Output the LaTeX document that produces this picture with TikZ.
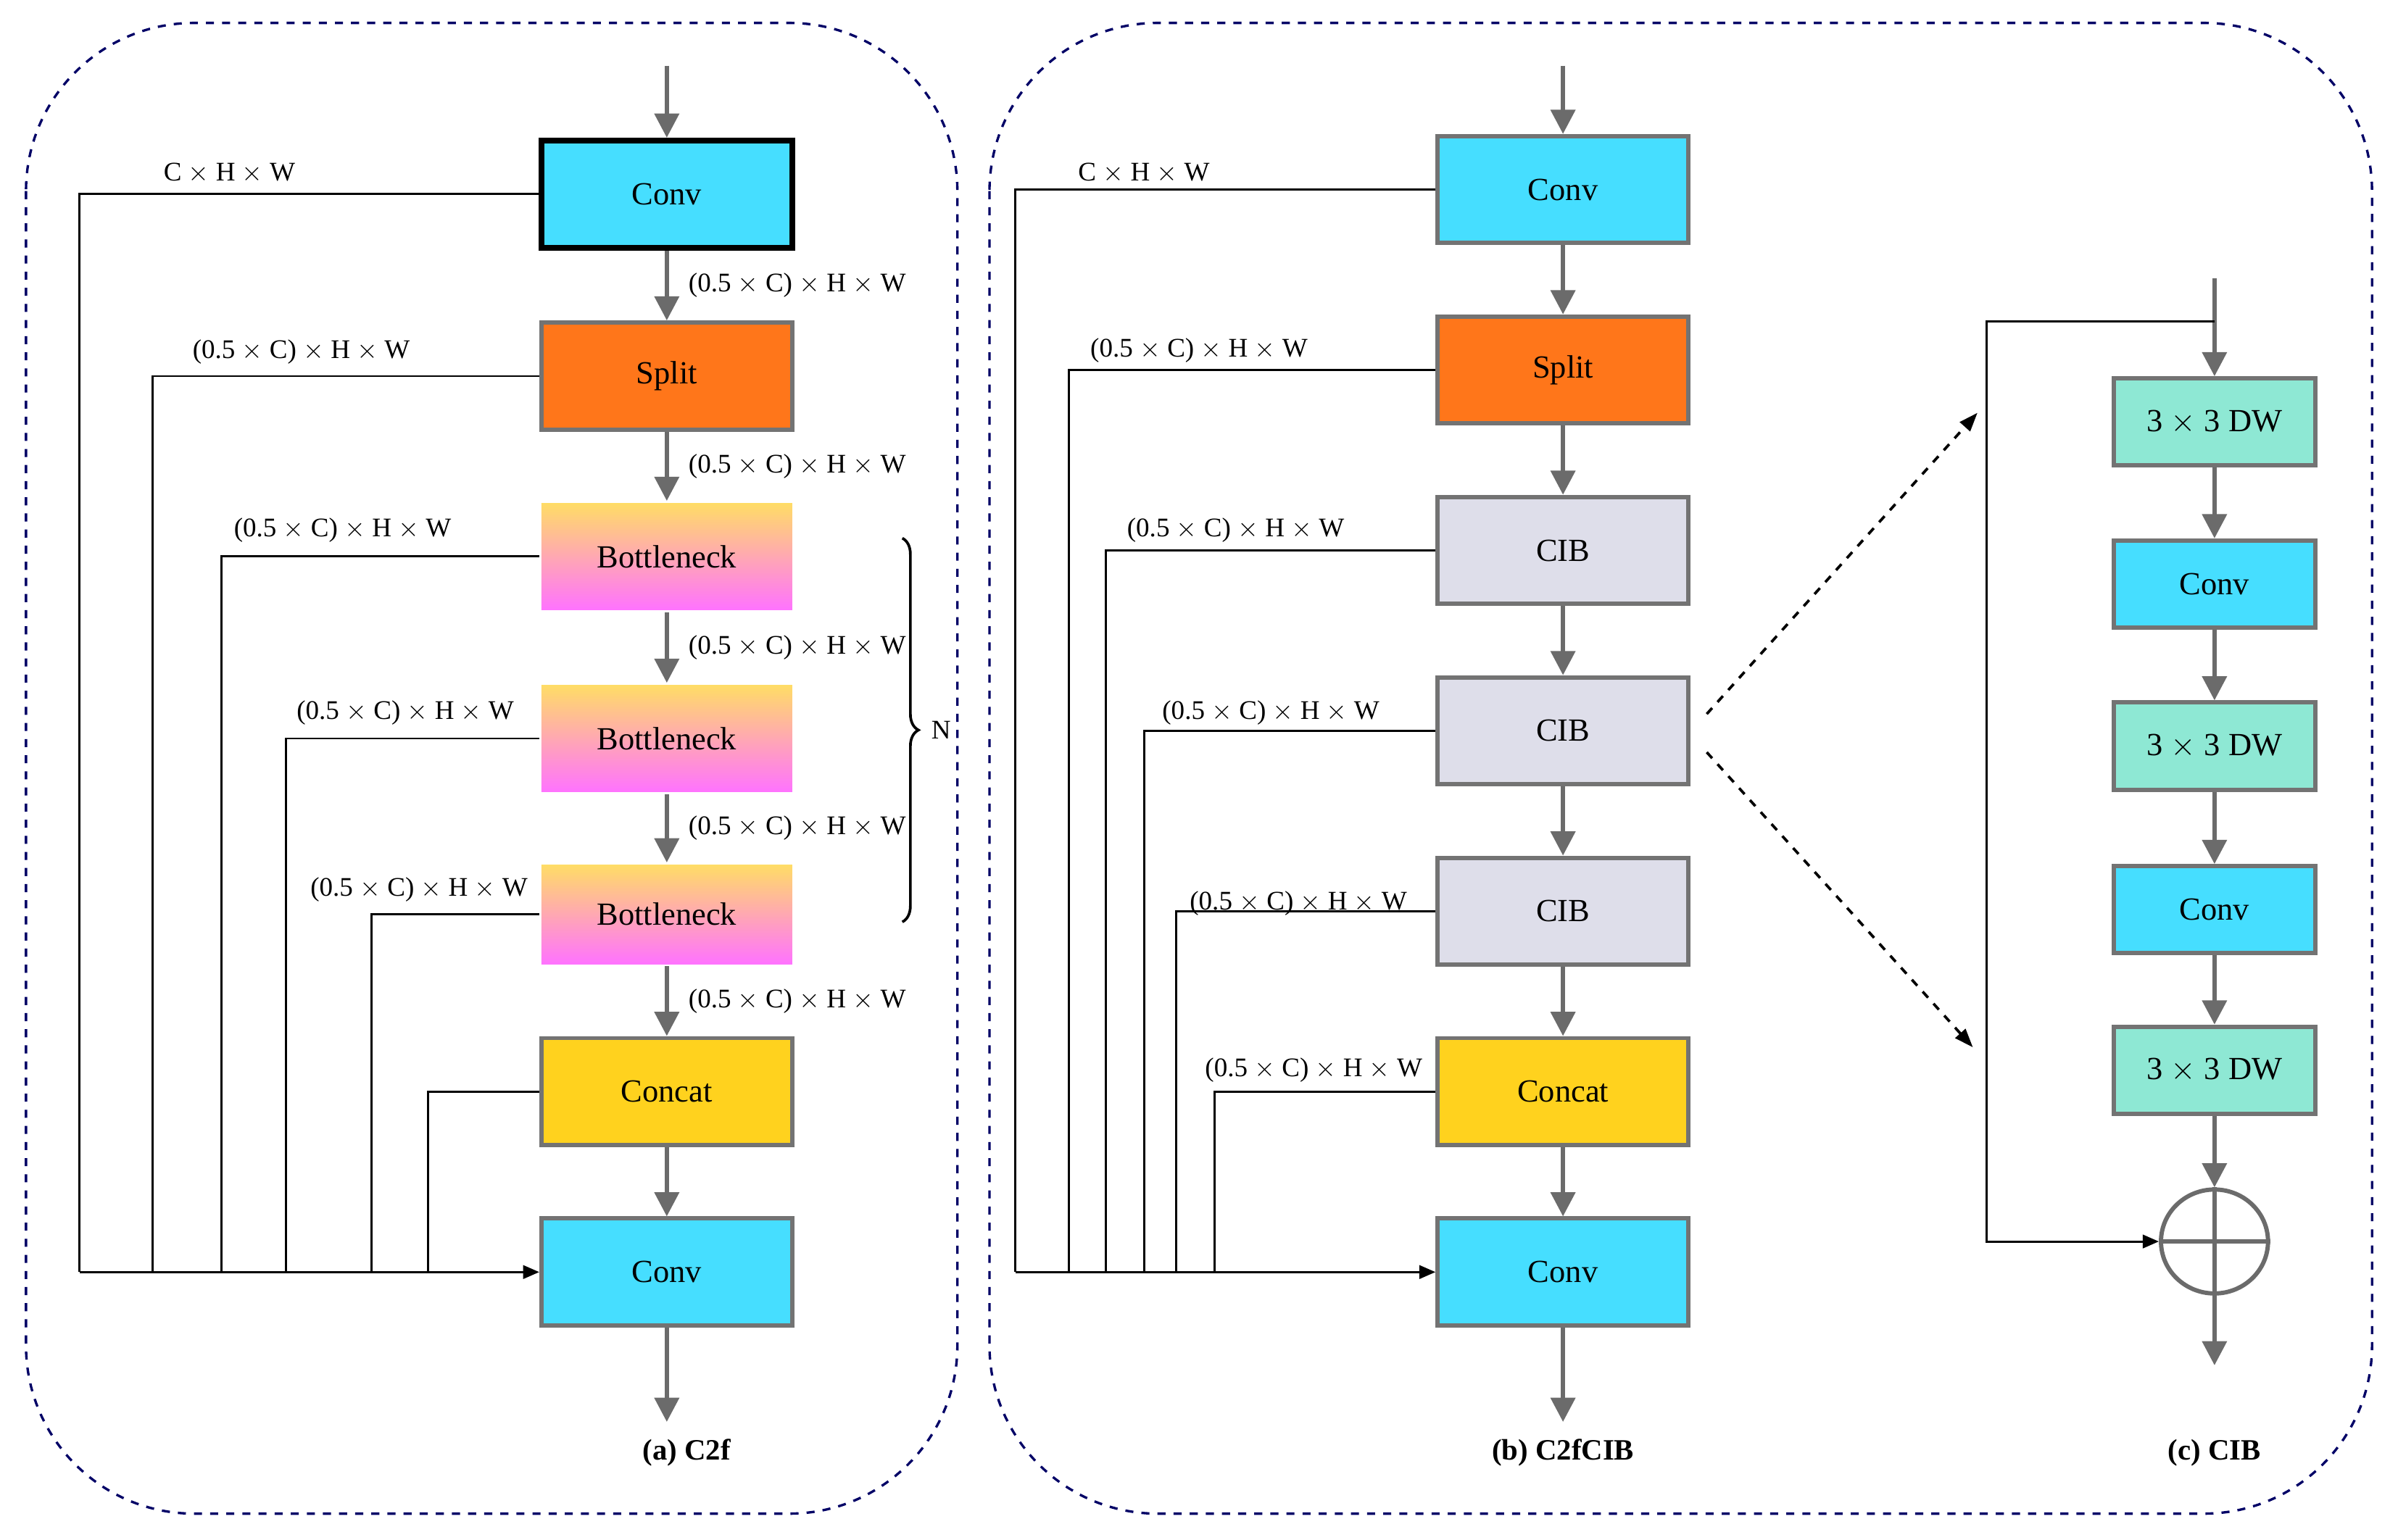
\documentclass[tikz,border=0pt]{standalone}
\usepackage{fontspec}
\setmainfont{Liberation Serif}
\usetikzlibrary{arrows.meta,shapes,positioning,decorations.pathreplacing,calc}

\begin{document}
\begin{tikzpicture}[x=0.02cm,y=-0.02cm,
  font=\fontsize{10}{12}\selectfont,
  blk/.style={rectangle, minimum width=3.28cm, minimum height=1.4cm, draw=black!55, line width=1.6pt, inner sep=0pt, font=\fontsize{12}{14}\selectfont},
  sblk/.style={blk, minimum width=2.64cm, minimum height=1.14cm},
  flow/.style={draw=black!58, line width=1.6pt, -{Triangle[length=9pt,width=9pt]}},
  skip/.style={draw=black, line width=0.8pt},
  panel/.style={draw=blue!40!black, dashed, line width=0.9pt, rounded corners=2.2cm}]
\definecolor{convc}{RGB}{70,222,255}
\definecolor{splitc}{RGB}{255,118,26}
\definecolor{cibc}{RGB}{222,222,234}
\definecolor{catc}{RGB}{255,210,30}
\definecolor{dwc}{RGB}{142,232,212}
\useasboundingbox (0,0) rectangle (1568,1007);

% panels
\draw[panel] (17,15) rectangle (626,990);
\draw[panel] (647,15) rectangle (1551,990);

% (a) C2f
\node[blk, fill=convc, draw=black, line width=2.2pt] (aconv1) at (436,127) {Conv};
\node[blk, fill=splitc] (asplit) at (436,246) {Split};
\node[blk, draw=none, top color=yellow!55!orange!60, bottom color=magenta!55] (abot1) at (436,364) {Bottleneck};
\node[blk, draw=none, top color=yellow!55!orange!60, bottom color=magenta!55] (abot2) at (436,483) {Bottleneck};
\node[blk, draw=none, top color=yellow!55!orange!60, bottom color=magenta!55, minimum height=1.3cm] (abot3) at (436,598) {Bottleneck};
\node[blk, fill=catc] (acat) at (436,714) {Concat};
\node[blk, fill=convc] (aconv2) at (436,832) {Conv};
\coordinate (ain) at (436,43);
\coordinate (aout) at (436,930);
\node[font=\fontsize{11}{13}\selectfont\bfseries] (acap) at (449,950) {(a) C2f};

\draw[flow] (ain) -- (aconv1);
\draw[flow] (aconv1) -- node[right, xshift=4pt] {(0.5 $\times$ C) $\times$ H $\times$ W} (asplit);
\draw[flow] (asplit) -- node[right, xshift=4pt] {(0.5 $\times$ C) $\times$ H $\times$ W} (abot1);
\draw[flow] (abot1) -- node[right, xshift=4pt] {(0.5 $\times$ C) $\times$ H $\times$ W} (abot2);
\draw[flow] (abot2) -- node[right, xshift=4pt] {(0.5 $\times$ C) $\times$ H $\times$ W} (abot3);
\draw[flow] (abot3) -- node[right, xshift=4pt] {(0.5 $\times$ C) $\times$ H $\times$ W} (acat);
\draw[flow] (acat) -- (aconv2);
\draw[flow] (aconv2) -- (aout);

\draw[skip] (aconv1.west) -| (52,832);
\draw[skip] (asplit.west) -| (100,832);
\draw[skip] (abot1.west) -| (145,832);
\draw[skip] (abot2.west) -| (187,832);
\draw[skip] (abot3.west) -| (243,832);
\draw[skip] (acat.west) -| (280,832);
\draw[skip, -{Triangle[length=6pt,width=5pt]}] (52,832) -- (aconv2.west);

\node at (150,113) {C $\times$ H $\times$ W};
\node at (197,230) {(0.5 $\times$ C) $\times$ H $\times$ W};
\node at (224,347) {(0.5 $\times$ C) $\times$ H $\times$ W};
\node at (265,466) {(0.5 $\times$ C) $\times$ H $\times$ W};
\node at (274,582) {(0.5 $\times$ C) $\times$ H $\times$ W};

\draw[line width=1pt, decorate, decoration={brace, amplitude=6pt}] (590,352) -- (590,603)
  node[midway, right=7pt] {N};

% (b) C2fCIB
\node[blk, fill=convc] (bconv1) at (1022,124) {Conv};
\node[blk, fill=splitc] (bsplit) at (1022,242) {Split};
\node[blk, fill=cibc] (bcib1) at (1022,360) {CIB};
\node[blk, fill=cibc] (bcib2) at (1022,478) {CIB};
\node[blk, fill=cibc] (bcib3) at (1022,596) {CIB};
\node[blk, fill=catc] (bcat) at (1022,714) {Concat};
\node[blk, fill=convc] (bconv2) at (1022,832) {Conv};
\coordinate (bin) at (1022,43);
\coordinate (bout) at (1022,930);
\node[font=\fontsize{11}{13}\selectfont\bfseries] (bcap) at (1022,950) {(b) C2fCIB};

\draw[flow] (bin) -- (bconv1);
\draw[flow] (bconv1) -- (bsplit);
\draw[flow] (bsplit) -- (bcib1);
\draw[flow] (bcib1) -- (bcib2);
\draw[flow] (bcib2) -- (bcib3);
\draw[flow] (bcib3) -- (bcat);
\draw[flow] (bcat) -- (bconv2);
\draw[flow] (bconv2) -- (bout);

\draw[skip] (bconv1.west) -| (664,832);
\draw[skip] (bsplit.west) -| (699,832);
\draw[skip] (bcib1.west) -| (723,832);
\draw[skip] (bcib2.west) -| (748,832);
\draw[skip] (bcib3.west) -| (769,832);
\draw[skip] (bcat.west) -| (794,832);
\draw[skip, -{Triangle[length=6pt,width=5pt]}] (664,832) -- (bconv2.west);

\node at (748,113) {C $\times$ H $\times$ W};
\node at (784,229) {(0.5 $\times$ C) $\times$ H $\times$ W};
\node at (808,347) {(0.5 $\times$ C) $\times$ H $\times$ W};
\node at (831,466) {(0.5 $\times$ C) $\times$ H $\times$ W};
\node at (849,591) {(0.5 $\times$ C) $\times$ H $\times$ W};
\node at (859,700) {(0.5 $\times$ C) $\times$ H $\times$ W};

% (c) CIB
\node[sblk, fill=dwc] (cdw1) at (1448,276) {3 $\times$ 3 DW};
\node[sblk, fill=convc] (cconv1) at (1448,382) {Conv};
\node[sblk, fill=dwc] (cdw2) at (1448,488) {3 $\times$ 3 DW};
\node[sblk, fill=convc] (cconv2) at (1448,595) {Conv};
\node[sblk, fill=dwc] (cdw3) at (1448,700) {3 $\times$ 3 DW};
\node[ellipse, draw=black!58, line width=1.6pt, minimum width=1.4cm, minimum height=1.36cm] (csum) at (1448,812) {};
\coordinate (cin) at (1448,182);
\coordinate (cout) at (1448,893);
\node[font=\fontsize{11}{13}\selectfont\bfseries] (ccap) at (1448,950) {(c) CIB};

\draw[flow] (cin) -- (cdw1);
\draw[flow] (cdw1) -- (cconv1);
\draw[flow] (cconv1) -- (cdw2);
\draw[flow] (cdw2) -- (cconv2);
\draw[flow] (cconv2) -- (cdw3);
\draw[flow] (cdw3) -- (csum.north);
\draw[draw=black!58, line width=1.6pt] (csum.north) -- (csum.south) (csum.west) -- (csum.east);
\draw[flow] (csum.south) -- (cout);
\draw[skip, -{Triangle[length=6pt,width=5pt]}] (1448,210) -| (1299,812) -- (csum.west);

% zoom-in
\coordinate (zt) at (1293,270);
\coordinate (zb) at (1290,685);
\draw[line width=1pt, dashed, -{Triangle[length=7pt,width=5pt]}] (1116,467) -- (zt);
\draw[line width=1pt, dashed, -{Triangle[length=7pt,width=5pt]}] (1116,492) -- (zb);
\end{tikzpicture}
\end{document}
